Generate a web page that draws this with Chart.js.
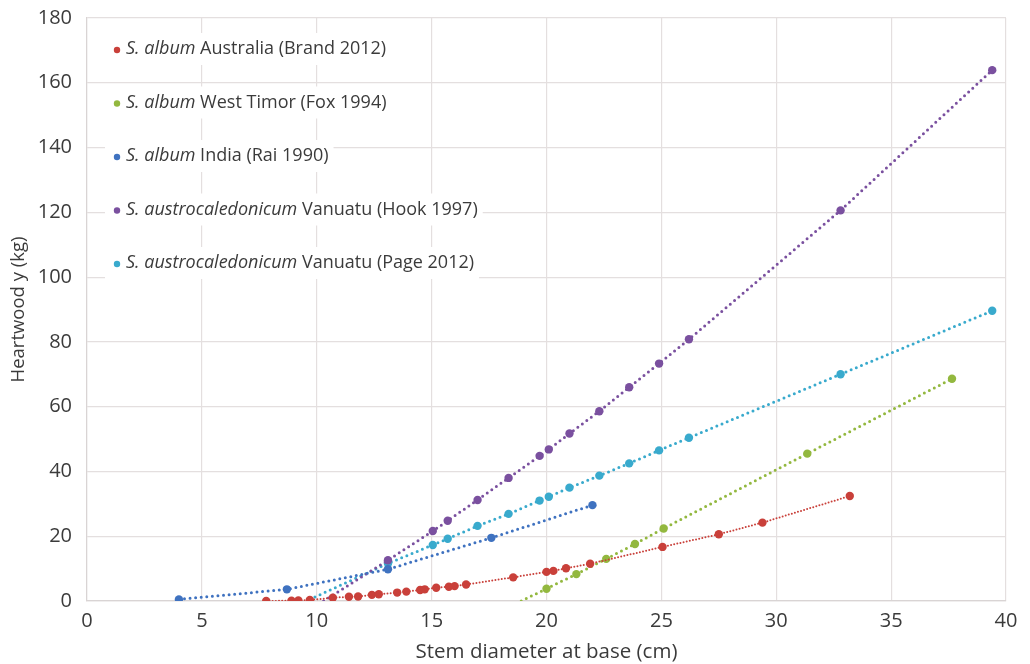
<!DOCTYPE html>
<html>
<head>
<meta charset="utf-8">
<script src="https://cdn.jsdelivr.net/npm/chart.js@4/dist/chart.umd.min.js"></script>
<style>
  html, body { margin: 0; padding: 0; background: #fff; }
  #wrap { width: 1030px; height: 664px; position: relative; }
</style>
</head>
<body>
<div id="wrap"><canvas id="heartwood-chart"></canvas></div>
<script>
// Stem diameter (cm) vs heartwood yield (kg)
const brandDiameter = [7.8, 8.9, 9.2, 9.7, 10.7, 11.4, 11.8, 12.4, 12.7, 13.5, 13.9, 14.5, 14.7, 15.2, 15.75, 16.0, 16.5, 18.55, 20.0, 20.3, 20.85, 21.9, 25.05, 27.5, 29.4, 33.2];
const brandHeartwood = [0, 0.1, 0.2, 0.3, 1.0, 1.3, 1.4, 1.9, 2.1, 2.6, 2.9, 3.4, 3.6, 4.1, 4.4, 4.6, 5.1, 7.3, 9.0, 9.3, 10.1, 11.5, 16.7, 20.6, 24.2, 32.4];

const foxDiameter = [18.9, 20.0, 21.3, 22.6, 23.85, 25.1, 31.35, 37.65];
const foxHeartwood = [0, 3.8, 8.3, 13.0, 17.6, 22.4, 45.5, 68.6];

const raiDiameter = [4.0, 8.7, 13.1, 17.6, 22.0];
const raiHeartwood = [0.5, 3.6, 9.8, 19.5, 29.6];

const hookDiameter = [10.3, 13.1, 15.05, 15.7, 17.0, 18.35, 19.7, 20.1, 21.0, 22.3, 23.6, 24.9, 26.2, 32.8, 39.4];
const hookHeartwood = [0, 12.6, 21.6, 24.8, 31.2, 38.0, 44.8, 46.8, 51.7, 58.6, 66.0, 73.3, 80.8, 120.6, 163.9];

const pageDiameter = [9.7, 13.1, 15.05, 15.7, 17.0, 18.35, 19.7, 20.1, 21.0, 22.3, 23.6, 24.9, 26.2, 32.8, 39.4];
const pageHeartwood = [0.5, 11.6, 17.3, 19.2, 23.2, 26.9, 31.0, 32.2, 35.0, 38.7, 42.5, 46.5, 50.4, 70.0, 89.6];

const speciesNames = ['S. album', 'S. album', 'S. album', 'S. austrocaledonicum', 'S. austrocaledonicum'];
const sourceNames = ['Australia (Brand 2012)', 'West Timor (Fox 1994)', 'India (Rai 1990)', 'Vanuatu (Hook 1997)', 'Vanuatu (Page 2012)'];

const xTicks = [0, 5, 10, 15, 20, 25, 30, 35, 40];
const yTicks = [0, 20, 40, 60, 80, 100, 120, 140, 160, 180];

const FONT = "'Open Sans', 'DejaVu Sans', sans-serif";
const TEXT = '#3b3b3b';
const GRID = '#e4dfdf';

function zipPoints(xs, ys) {
  return xs.map((x, i) => ({ x, y: ys[i] }));
}

function markerSizes(count, hideFirst) {
  return Array.from({ length: count }, (_, i) => (hideFirst && i === 0 ? 0 : 4.2));
}

const seriesStyle = [
  { color: '#c9403a', width: 2, dash: [0, 3.2], hideFirst: false },
  { color: '#93b83f', width: 3, dash: [0, 5.6], hideFirst: true },
  { color: '#3f72c0', width: 3, dash: [0, 5.6], hideFirst: false },
  { color: '#7a509f', width: 3, dash: [0, 5.6], hideFirst: true },
  { color: '#39aacd', width: 3, dash: [0, 5.6], hideFirst: true }
];

const seriesData = [
  zipPoints(brandDiameter, brandHeartwood),
  zipPoints(foxDiameter, foxHeartwood),
  zipPoints(raiDiameter, raiHeartwood),
  zipPoints(hookDiameter, hookHeartwood),
  zipPoints(pageDiameter, pageHeartwood)
];

const datasets = seriesData.map((points, i) => ({
  label: speciesNames[i] + ' ' + sourceNames[i],
  data: points,
  showLine: true,
  borderColor: seriesStyle[i].color,
  backgroundColor: seriesStyle[i].color,
  borderWidth: seriesStyle[i].width,
  borderDash: seriesStyle[i].dash,
  borderCapStyle: 'round',
  pointRadius: markerSizes(points.length, seriesStyle[i].hideFirst),
  pointBorderWidth: 0,
  pointHoverRadius: 5
}));

// key drawn inside the plot, species name in italics
const seriesKey = {
  id: 'seriesKey',
  afterDraw(chart) {
    const ctx = chart.ctx;
    const area = chart.chartArea;
    const rowTop = 49;
    const rowGap = 53.5;
    ctx.save();
    ctx.textBaseline = 'middle';
    speciesNames.forEach((name, i) => {
      const y = rowTop + i * rowGap;
      const dotX = area.left + 30;
      const textX = dotX + 9;
      ctx.font = 'italic 18px ' + FONT;
      const nameWidth = ctx.measureText(name).width;
      ctx.font = '18px ' + FONT;
      const restWidth = ctx.measureText(' ' + sourceNames[i]).width;
      ctx.fillStyle = '#ffffff';
      ctx.fillRect(dotX - 12, y - 16, nameWidth + restWidth + 26, 32);
      ctx.fillStyle = seriesStyle[i].color;
      ctx.beginPath();
      ctx.arc(dotX, y + 1, 3.2, 0, Math.PI * 2);
      ctx.fill();
      ctx.fillStyle = TEXT;
      ctx.font = 'italic 18px ' + FONT;
      ctx.fillText(name, textX, y);
      ctx.font = '18px ' + FONT;
      ctx.fillText(' ' + sourceNames[i], textX + nameWidth, y);
    });
    ctx.restore();
  }
};

new Chart(document.getElementById('heartwood-chart'), {
  type: 'scatter',
  data: { datasets },
  plugins: [seriesKey],
  options: {
    responsive: true,
    maintainAspectRatio: false,
    animation: false,
    layout: { padding: { top: 18, right: 24, left: 0, bottom: 0 } },
    plugins: {
      legend: { display: false },
      tooltip: { enabled: false }
    },
    scales: {
      x: {
        type: 'linear',
        min: xTicks[0],
        max: xTicks[xTicks.length - 1],
        afterBuildTicks: (scale) => { scale.ticks = xTicks.map((v) => ({ value: v })); },
        afterFit: (scale) => {
          scale.height = 63;
          scale.paddingLeft = 0;
          scale.paddingRight = 0;
        },
        ticks: { color: TEXT, font: { family: FONT, size: 20 }, padding: 8 },
        grid: { color: GRID, lineWidth: 1.2, drawTicks: false },
        border: { color: '#d9d4d4', width: 1.2 },
        title: {
          display: true,
          text: 'Stem diameter at base (cm)',
          color: TEXT,
          font: { family: FONT, size: 20.5 },
          padding: { top: 0, bottom: 0 }
        }
      },
      y: {
        type: 'linear',
        min: yTicks[0],
        max: yTicks[yTicks.length - 1],
        afterBuildTicks: (scale) => { scale.ticks = yTicks.map((v) => ({ value: v })); },
        afterFit: (scale) => {
          scale.width = 87;
          scale.paddingTop = 0;
          scale.paddingBottom = 0;
        },
        ticks: { color: TEXT, font: { family: FONT, size: 20 }, padding: 15 },
        grid: { color: GRID, lineWidth: 1.2, drawTicks: false },
        border: { color: '#d9d4d4', width: 1.2 },
        title: {
          display: true,
          text: 'Heartwood y (kg)',
          color: TEXT,
          font: { family: FONT, size: 18.5 },
          padding: { top: 8, bottom: 0 }
        }
      }
    }
  }
});
</script>
</body>
</html>
